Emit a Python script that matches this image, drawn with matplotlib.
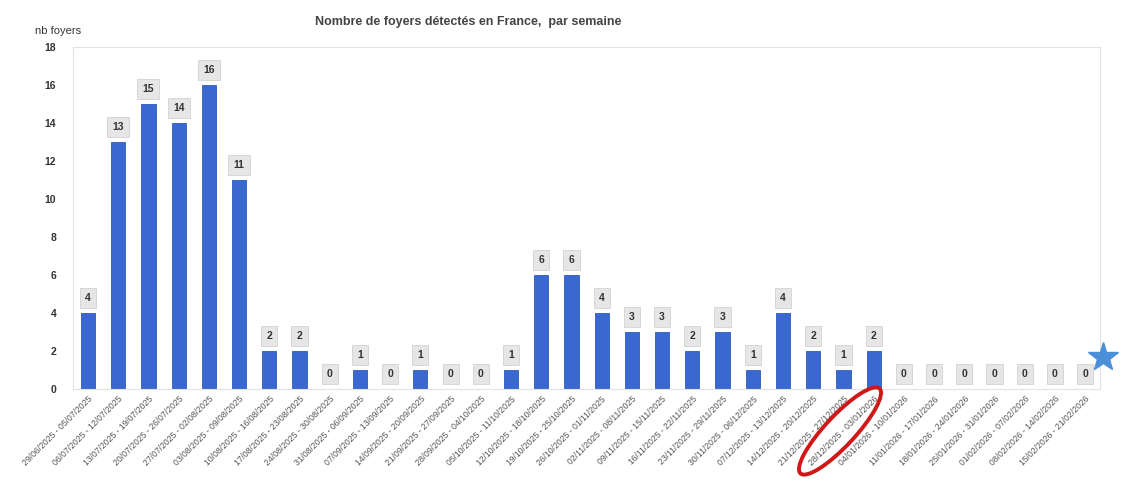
import matplotlib
matplotlib.use('agg')
import matplotlib.pyplot as plt
from matplotlib.patches import Ellipse

plt.rcParams['font.family'] = ['Liberation Sans', 'DejaVu Sans']

weeks = [
    '29/06/2025 - 05/07/2025', '06/07/2025 - 12/07/2025', '13/07/2025 - 19/07/2025',
    '20/07/2025 - 26/07/2025', '27/07/2025 - 02/08/2025', '03/08/2025 - 09/08/2025',
    '10/08/2025 - 16/08/2025', '17/08/2025 - 23/08/2025', '24/08/2025 - 30/08/2025',
    '31/08/2025 - 06/09/2025', '07/09/2025 - 13/09/2025', '14/09/2025 - 20/09/2025',
    '21/09/2025 - 27/09/2025', '28/09/2025 - 04/10/2025', '05/10/2025 - 11/10/2025',
    '12/10/2025 - 18/10/2025', '19/10/2025 - 25/10/2025', '26/10/2025 - 01/11/2025',
    '02/11/2025 - 08/11/2025', '09/11/2025 - 15/11/2025', '16/11/2025 - 22/11/2025',
    '23/11/2025 - 29/11/2025', '30/11/2025 - 06/12/2025', '07/12/2025 - 13/12/2025',
    '14/12/2025 - 20/12/2025', '21/12/2025 - 27/12/2025', '28/12/2025 - 03/01/2026',
    '04/01/2026 - 10/01/2026', '11/01/2026 - 17/01/2026', '18/01/2026 - 24/01/2026',
    '25/01/2026 - 31/01/2026', '01/02/2026 - 07/02/2026', '08/02/2026 - 14/02/2026',
    '15/02/2026 - 21/02/2026',
]
foyers = [4, 13, 15, 14, 16, 11, 2, 2, 0, 1, 0, 1, 0, 0, 1, 6, 6, 4, 3, 3,
          2, 3, 1, 4, 2, 1, 2, 0, 0, 0, 0, 0, 0, 0]
star_value = 1.7

fig = plt.figure(figsize=(11.39, 4.88), dpi=100)
ax = fig.add_axes([0.064, 0.203, 0.902, 0.701])

x = list(range(len(weeks)))
ax.bar(x, foyers, width=0.47, color='#3868d0', edgecolor='#2f5bb8', linewidth=0.6, zorder=2)

for i, v in zip(x, foyers):
    ax.annotate(str(v), xy=(i, v), xytext=(0, 7), textcoords='offset points',
                ha='center', va='bottom', fontsize=7.5, fontweight='bold', color='#333333',
                bbox=dict(boxstyle='square,pad=0.5', facecolor='#e6e6e6',
                          edgecolor='#d2d2d2', linewidth=0.6))

ax.set_xlim(-0.5, 33.5)
ax.set_ylim(0, 18)
ax.set_yticks(range(0, 19, 2))
ax.set_yticklabels([str(t) for t in range(0, 19, 2)], fontsize=7.5, fontweight='bold',
                   color='#333333')
ax.set_xticks(x)
ax.set_xticklabels(weeks, rotation=45, ha='right', rotation_mode='anchor',
                   fontsize=6.2, color='#555555')
ax.tick_params(axis='both', length=0, pad=4)
ax.tick_params(axis='y', pad=12)

for s in ax.spines.values():
    s.set_color('#e2e2e2')
    s.set_linewidth(0.8)

# star marker beyond last week
ax.plot([33.6], [star_value], marker='*', markersize=22, color='#4a8fd8',
        clip_on=False, zorder=5)

fig.text(0.411, 0.955, 'Nombre de foyers détectés en France,  par semaine',
         ha='center', va='center', fontsize=9, fontweight='bold', color='#444444')
fig.text(0.031, 0.937, 'nb foyers', ha='left', va='center', fontsize=8, color='#333333')

# red ellipse around the 28/12/2025 - 03/01/2026 label
ell = Ellipse((8.40, 4.88 - 4.31), 1.16, 0.30, angle=47, fill=False,
              edgecolor='#d01818', linewidth=2.8, transform=fig.dpi_scale_trans,
              zorder=10)
fig.patches.append(ell)

fig.savefig('out.png', dpi=100)
